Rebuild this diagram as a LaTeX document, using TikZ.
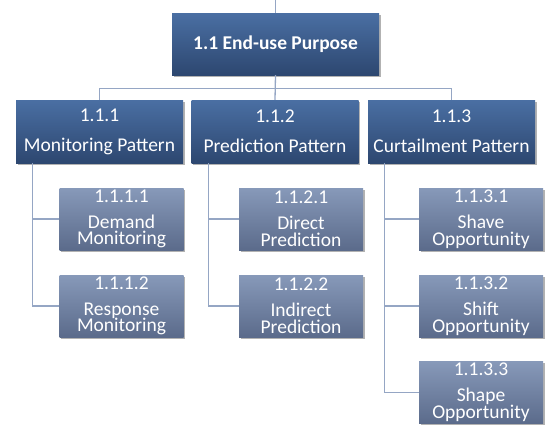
\documentclass[tikz,border=0pt]{standalone}
\usepackage{fontspec}
\setmainfont{Carlito}
\usetikzlibrary{shadows}
\definecolor{dktop}{HTML}{4A6FA3}
\definecolor{dkbot}{HTML}{2D4770}
\definecolor{lttop}{HTML}{8799B9}
\definecolor{ltbot}{HTML}{5B6B8B}
\definecolor{connc}{HTML}{95A6C4}
\newcommand\tightls{\lineskiplimit=-30pt\relax}
\newcommand\ltfont{\fontsize{19.5}{16.6}\selectfont\tightls}
\newcommand\midfont{\fontsize{19.5}{30}\selectfont\tightls}
\tikzset{
  basebox/.style={rectangle, inner sep=0pt, text=white, align=center,
    drop shadow={shadow xshift=1.5pt, shadow yshift=-1.5pt, opacity=0.3, fill=black}},
  dkbox/.style={basebox, top color=dktop, bottom color=dkbot},
  ltbox/.style={basebox, top color=lttop, bottom color=ltbot,
    minimum width=124pt, minimum height=62pt, font=\ltfont},
  midbox/.style={dkbox, minimum width=167pt, minimum height=63pt, font=\midfont},
  conn/.style={draw=connc, line width=1.3pt}
}
\begin{document}
\begin{tikzpicture}[x=1pt,y=-1pt]
\useasboundingbox (0,0) rectangle (546,431);
% top
\node[dkbox, minimum width=207pt, minimum height=62pt,
      font=\fontsize{19.5}{22}\selectfont\bfseries] (top) at (275.5,44) {1.1 End-use Purpose};
% level 2
\node[midbox] (A) at (99.5,131.5) {1.1.1\\Monitoring Pattern};
\node[midbox] (B) at (275,131.5) {1.1.2\\Prediction Pattern};
\node[midbox] (C) at (451.5,131.5) {1.1.3\\Curtailment Pattern};
% level 3
\node[ltbox] (A1) at (121.5,219) {1.1.1.1\\[9.4pt]Demand\\Monitoring};
\node[ltbox] (A2) at (121.5,306) {1.1.1.2\\[9.4pt]Response\\Monitoring};
\node[ltbox] (B1) at (301,219) {1.1.2.1\\[9.4pt]Direct\\Prediction};
\node[ltbox] (B2) at (301,306) {1.1.2.2\\[9.4pt]Indirect\\Prediction};
\node[ltbox] (C1) at (481,219) {1.1.3.1\\[9.4pt]Shave\\Opportunity};
\node[ltbox] (C2) at (481,306) {1.1.3.2\\[9.4pt]Shift\\Opportunity};
\node[ltbox] (C3) at (481,392.5) {1.1.3.3\\[9.4pt]Shape\\Opportunity};
% connectors
\coordinate (in) at (275.5,0);
\draw[conn] (in) -- (top.north);
\draw[conn] (top.south) -- ++(0,13) -| (A.north);
\draw[conn] (top.south) -- ++(0,13) -| (C.north);
\draw[conn] (top.south) -- (B.north);
\draw[conn] ([xshift=17pt]A.south west) |- (A1.west);
\draw[conn] ([xshift=17pt]A.south west) |- (A2.west);
\draw[conn] ([xshift=17pt]B.south west) |- (B1.west);
\draw[conn] ([xshift=17pt]B.south west) |- (B2.west);
\draw[conn] ([xshift=17pt]C.south west) |- (C1.west);
\draw[conn] ([xshift=17pt]C.south west) |- (C2.west);
\draw[conn] ([xshift=17pt]C.south west) |- (C3.west);
\end{tikzpicture}
\end{document}
